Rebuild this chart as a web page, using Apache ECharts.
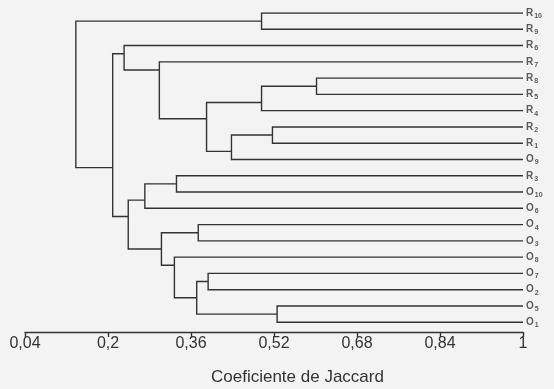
<!DOCTYPE html>
<html>
<head>
<meta charset="utf-8">
<script src="https://cdn.jsdelivr.net/npm/echarts@6/dist/echarts.min.js"></script>
<style>
  html, body { margin: 0; padding: 0; background: #f3f3f3; }
  #chart { width: 554px; height: 389px; }
</style>
</head>
<body>
<div id="chart"></div>
<script>
// leaf order, top to bottom
const leaves = ['R10', 'R9', 'R6', 'R7', 'R8', 'R5', 'R4', 'R2', 'R1', 'O9',
                'R3', 'O10', 'O6', 'O4', 'O3', 'O8', 'O7', 'O2', 'O5', 'O1'];

// merges: [upper child, lower child, Jaccard similarity]
// ids 0..19 are leaves, merge k gets id 20 + k
const merges = [
  [4, 5, 0.602],
  [20, 6, 0.496],
  [7, 8, 0.517],
  [22, 9, 0.438],
  [21, 23, 0.390],
  [3, 24, 0.299],
  [2, 25, 0.231],
  [0, 1, 0.496],
  [10, 11, 0.332],
  [28, 12, 0.271],
  [13, 14, 0.374],
  [16, 17, 0.393],
  [18, 19, 0.526],
  [31, 32, 0.371],
  [15, 33, 0.328],
  [30, 34, 0.303],
  [29, 35, 0.239],
  [26, 36, 0.209],
  [27, 37, 0.138]
];

const tickValues = [0.04, 0.2, 0.36, 0.52, 0.68, 0.84, 1];
const leafSim = 1;

// node info: height, anchor row, last leaf row
const nodes = leaves.map((l, i) => ({ h: leafSim, y: i, last: i }));
const segs = [];
merges.forEach(([a, b, h]) => {
  const na = nodes[a], nb = nodes[b];
  segs.push({ coords: [[na.h, na.y], [h, na.y], [h, nb.y], [nb.h, nb.y]] });
  nodes.push({ h: h, y: na.last + 0.5, last: nb.last });
});

const chart = echarts.init(document.getElementById('chart'));
chart.setOption({
  backgroundColor: '#f3f3f3',
  animation: false,
  title: {
    text: 'Coeficiente de Jaccard',
    left: 211,
    top: 369,
    padding: 0,
    textStyle: { fontSize: 17, fontWeight: 'normal', color: '#333', fontFamily: 'Liberation Sans' }
  },
  grid: { left: 25, right: 31, top: 13, bottom: 57 },
  xAxis: {
    type: 'value',
    min: 0.04,
    max: 1,
    interval: 0.16,
    axisLine: { show: true, onZero: false, lineStyle: { color: '#333', width: 1.4 } },
    axisTick: { show: true, length: 5, lineStyle: { color: '#333', width: 1.4 } },
    splitLine: { show: false },
    axisLabel: {
      fontSize: 16,
      color: '#333',
      margin: 4,
      fontFamily: 'Liberation Sans',
      formatter: v => {
        const t = tickValues.find(x => Math.abs(x - v) < 1e-6);
        return t === undefined ? '' : String(t).replace('.', ',');
      }
    }
  },
  yAxis: {
    type: 'value',
    inverse: true,
    min: 0,
    max: 19.6,
    show: false
  },
  series: [
    {
      type: 'lines',
      coordinateSystem: 'cartesian2d',
      polyline: true,
      silent: true,
      lineStyle: { color: '#333', width: 1.4, opacity: 1 },
      data: segs
    },
    {
      type: 'scatter',
      symbolSize: 0,
      silent: true,
      data: leaves.map((l, i) => [leafSim, i, l]),
      label: {
        show: true,
        position: 'right',
        distance: 3,
        formatter: p => '{m|' + p.data[2][0] + '}{s|' + p.data[2].slice(1) + '}',
        rich: {
          m: { fontSize: 10, fontWeight: 'bold', color: '#333', fontFamily: 'Liberation Sans' },
          s: { fontSize: 7, fontWeight: 'bold', color: '#333', fontFamily: 'Liberation Sans', padding: [6, 0, 0, 1] }
        }
      }
    }
  ]
});
</script>
</body>
</html>
